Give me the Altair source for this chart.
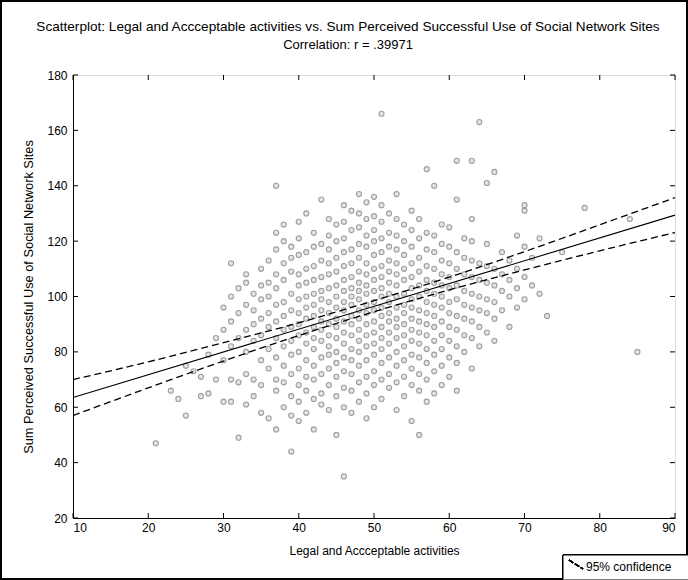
import altair as alt
import pandas as pd

# ---- data (x column -> y values) ----
pts = {
    21: [47], 23: [66], 24: [63], 25: [57, 75], 26: [73], 27: [71, 64], 28: [65, 79],
    29: [70, 85], 30: [62, 77, 88, 96], 31: [112, 62, 70, 82, 91, 100],
    32: [49, 69, 85, 94, 103], 33: [61, 72, 80, 88, 97, 105, 108],
    34: [64, 70, 84, 90, 95, 101], 35: [58, 68, 77, 86, 92, 99, 104, 110],
    36: [56, 74, 81, 89, 94, 100, 105, 113],
    37: [140, 52, 66, 70, 78, 85, 91, 97, 103, 108, 117, 123],
    38: [60, 69, 75, 82, 88, 93, 98, 106, 112, 120, 126],
    39: [44, 57, 64, 72, 79, 84, 89, 95, 101, 109, 114, 118],
    40: [55, 62, 68, 74, 80, 86, 90, 94, 99, 104, 108, 115, 121, 127],
    41: [58, 66, 71, 77, 83, 87, 92, 96, 100, 105, 110, 116, 130],
    42: [52, 63, 70, 75, 81, 85, 89, 93, 97, 101, 106, 111, 118, 123],
    43: [61, 65, 72, 78, 84, 88, 91, 95, 99, 102, 107, 113, 119, 135],
    44: [59, 68, 74, 79, 82, 86, 90, 94, 98, 103, 108, 112, 117, 122, 128],
    45: [50, 64, 71, 76, 80, 85, 89, 92, 96, 100, 104, 109, 114, 120, 126],
    46: [35, 60, 67, 73, 78, 83, 87, 91, 95, 98, 102, 106, 111, 116, 121, 127, 133],
    47: [58, 66, 72, 77, 81, 86, 90, 93, 97, 100, 103, 107, 112, 117, 124, 131],
    48: [62, 69, 75, 80, 84, 88, 92, 95, 99, 102, 105, 109, 114, 119, 125, 130, 137],
    49: [56, 65, 71, 77, 82, 86, 90, 94, 97, 101, 104, 108, 112, 118, 122, 128, 134],
    50: [60, 68, 73, 79, 83, 87, 91, 95, 98, 102, 106, 110, 115, 120, 124, 129, 136],
    51: [166, 63, 70, 76, 81, 85, 89, 93, 96, 100, 103, 107, 111, 116, 121, 127, 133],
    52: [67, 72, 78, 83, 87, 91, 94, 98, 101, 105, 109, 113, 118, 123, 130],
    53: [59, 69, 75, 80, 85, 89, 92, 96, 100, 104, 108, 112, 117, 122, 128, 137],
    54: [64, 71, 77, 82, 86, 90, 94, 97, 101, 106, 110, 115, 120, 126],
    55: [55, 68, 74, 79, 84, 88, 92, 96, 99, 103, 107, 112, 118, 124, 131],
    56: [50, 66, 72, 78, 83, 87, 91, 95, 100, 104, 109, 114, 121, 128],
    57: [62, 70, 76, 81, 86, 90, 94, 98, 102, 106, 111, 117, 123, 146],
    58: [65, 73, 79, 84, 89, 93, 97, 101, 105, 110, 116, 122, 140],
    59: [68, 75, 81, 86, 91, 96, 100, 104, 108, 113, 119, 126],
    60: [71, 78, 84, 89, 94, 98, 103, 107, 112, 118, 125],
    61: [66, 76, 82, 88, 93, 99, 104, 110, 116, 135, 149],
    62: [80, 86, 92, 97, 102, 108, 114, 121],
    63: [74, 85, 91, 96, 101, 107, 113, 120, 128, 149],
    64: [82, 89, 95, 100, 106, 112, 163],
    65: [87, 94, 99, 105, 111, 119, 141],
    66: [84, 92, 98, 104, 110, 145],
    67: [95, 102, 108, 116], 68: [89, 100, 106, 113], 69: [96, 103, 110, 122],
    70: [99, 107, 118, 131, 133], 71: [104, 114], 72: [101, 121], 73: [93],
    75: [116], 78: [132], 84: [128], 85: [80],
}

line_x = [10, 90]
line_y = [63.5, 129.4]
band_x = [10, 20, 30, 40, 50, 60, 70, 80, 90]
band_upper = [70.0, 76.4, 83.3, 90.5, 98.5, 107.0, 116.2, 125.9, 135.7]
band_lower = [57.0, 67.0, 76.7, 85.9, 94.5, 102.4, 109.6, 116.5, 123.1]
x_ticks = [10, 20, 30, 40, 50, 60, 70, 80, 90]
y_ticks = [20, 40, 60, 80, 100, 120, 140, 160, 180]
title_lines = ["Scatterplot: Legal and Accceptable activities vs. Sum Perceived Successful Use of Social Network Sites",
               "Correlation: r = .39971"]

FONT = "Liberation Sans, Arial"

rows = [{"x": x, "y": y} for x, ys in pts.items() for y in ys]
df = pd.DataFrame(rows)
line_df = pd.DataFrame({"x": line_x, "y": line_y})
band_df = pd.concat([
    pd.DataFrame({"x": band_x, "y": band_upper, "b": "upper"}),
    pd.DataFrame({"x": band_x, "y": band_lower, "b": "lower"}),
])
xt = pd.DataFrame({"v": x_ticks})
yt = pd.DataFrame({"v": y_ticks})

W, H = 602, 443
xs = alt.Scale(domain=[10, 90], nice=False)
ys_ = alt.Scale(domain=[20, 180], nice=False)

xaxis = alt.Axis(values=x_ticks, ticks=False, title="Legal and Accceptable activities",
                 labelFontSize=12, titleFontSize=12, labelFont=FONT, titleFont=FONT,
                 labelColor="black", titleColor="black", titleFontWeight="normal",
                 domainColor="black", grid=False, labelPadding=4, titlePadding=12)
yaxis = alt.Axis(values=y_ticks, ticks=False,
                 title="Sum Perceived Successful Use of Social Network Sites",
                 labelFontSize=12, titleFontSize=12.8, labelFont=FONT, titleFont=FONT,
                 labelColor="black", titleColor="black", titleFontWeight="normal",
                 domainColor="black", grid=False, labelPadding=6, titlePadding=11)

points = alt.Chart(df).mark_point(shape="circle", size=26, filled=False, fill="#d4d4d4",
                                  fillOpacity=0.6, stroke="#8f8f8f", strokeWidth=1.1,
                                  strokeOpacity=0.85).encode(
    x=alt.X("x:Q", scale=xs, axis=xaxis),
    y=alt.Y("y:Q", scale=ys_, axis=yaxis),
)

fit = alt.Chart(line_df).mark_line(color="black", strokeWidth=1.1).encode(
    x=alt.X("x:Q", scale=xs), y=alt.Y("y:Q", scale=ys_))

bands = alt.Chart(band_df).mark_line(color="black", strokeWidth=1.3,
                                     strokeDash=[7, 4], interpolate="monotone").encode(
    x=alt.X("x:Q", scale=xs), y=alt.Y("y:Q", scale=ys_), detail="b:N")

# inward tick marks on all four sides
tl = alt.Chart(yt).mark_rule(color="black").encode(
    y=alt.Y("v:Q", scale=ys_), x=alt.value(0), x2=alt.value(5))
tr = alt.Chart(yt).mark_rule(color="black").encode(
    y=alt.Y("v:Q", scale=ys_), x=alt.value(W - 5), x2=alt.value(W))
tb = alt.Chart(xt).mark_rule(color="black").encode(
    x=alt.X("v:Q", scale=xs), y=alt.value(H - 5), y2=alt.value(H))
tt = alt.Chart(xt).mark_rule(color="black").encode(
    x=alt.X("v:Q", scale=xs), y=alt.value(0), y2=alt.value(5))

# outer frame of the figure
frame = alt.Chart(xt).mark_rect(fill=None, stroke="black", strokeWidth=2, clip=False).encode(
    x=alt.value(-72), x2=alt.value(W + 12), y=alt.value(-74), y2=alt.value(H + 61))

# title as text
title_df = pd.DataFrame({"t": title_lines, "row": [0, 1]})
title1 = alt.Chart(title_df.iloc[[0]]).mark_text(
    align="center", baseline="middle", fontSize=13.6, font=FONT, color="black", clip=False).encode(
    x=alt.value(275), y=alt.value(-48), text="t:N")
title2 = alt.Chart(title_df.iloc[[1]]).mark_text(
    align="center", baseline="middle", fontSize=13, font=FONT, color="black", clip=False).encode(
    x=alt.value(275), y=alt.value(-30), text="t:N")

# legend box
leg_box = alt.Chart(xt).mark_rect(fill="white", stroke="black", strokeWidth=1, clip=False).encode(
    x=alt.value(490), x2=alt.value(W + 14), y=alt.value(480), y2=alt.value(H + 62))
leg_line = alt.Chart(xt).mark_rule(color="black", strokeWidth=1.3, strokeDash=[5, 2], clip=False).encode(
    x=alt.value(496), x2=alt.value(510), y=alt.value(485), y2=alt.value(494))
leg_text = alt.Chart(pd.DataFrame({"t": ["95% confidence"]})).mark_text(
    align="left", baseline="middle", fontSize=12, font=FONT, color="black", clip=False).encode(
    x=alt.value(513), y=alt.value(492), text="t:N")

chart = alt.layer(points, bands, fit, tl, tr, tb, tt, frame, title1, title2,
                  leg_box, leg_line, leg_text).properties(
    width=W, height=H,
    padding={"left": 73, "top": 75, "right": 13, "bottom": 62},
    autosize=alt.AutoSizeParams(type="none"),
).configure_view(stroke="black", strokeWidth=1).configure(background="white")

chart.save("out.html", embed_options={"renderer": "svg", "actions": False})
